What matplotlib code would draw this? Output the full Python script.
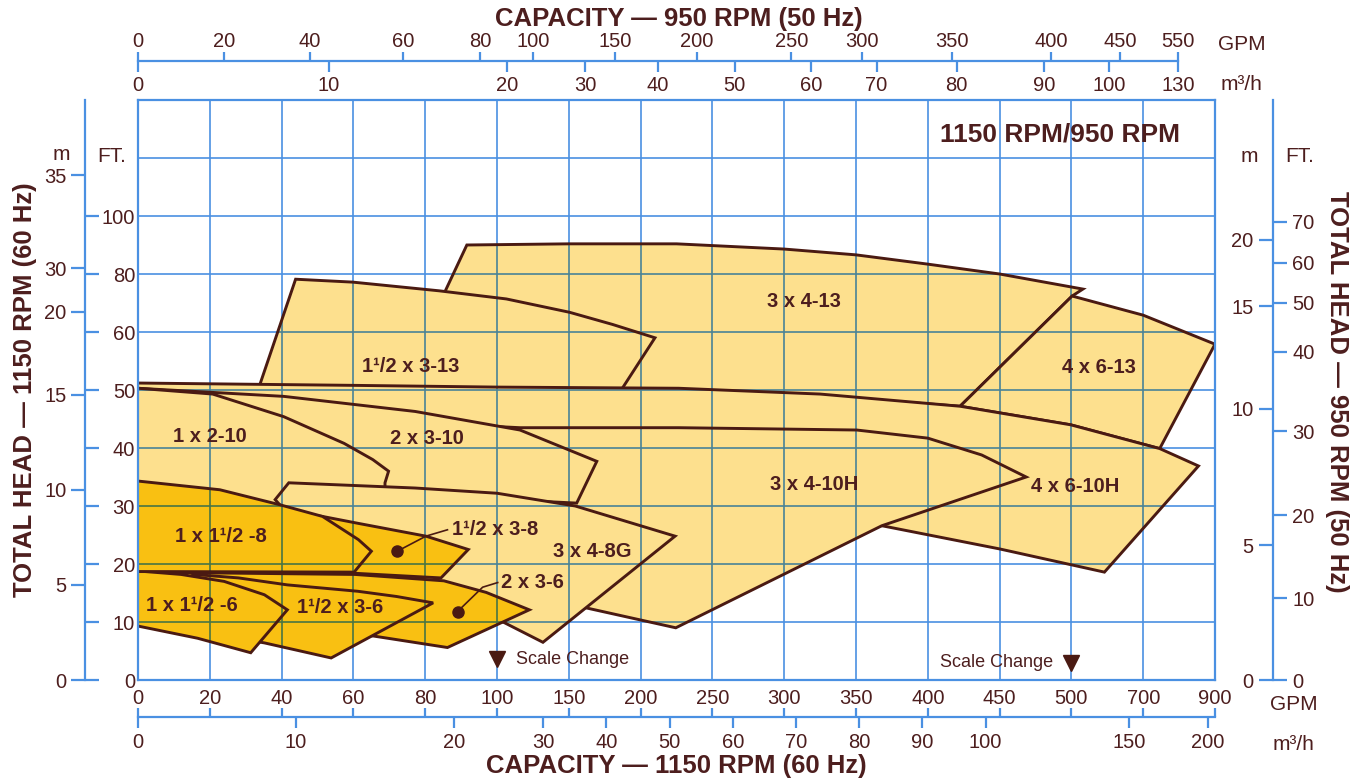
import numpy as np
import matplotlib
matplotlib.use("Agg")
import matplotlib.pyplot as plt
from matplotlib.patches import Polygon
from matplotlib.collections import LineCollection
from matplotlib.colors import to_rgb

plt.rcParams['font.family'] = ['Liberation Sans', 'DejaVu Sans']

# ---------------- scales / tick labels ----------------
GPM_1150_TICKS = [0, 20, 40, 60, 80, 100, 150, 200, 250, 300, 350, 400, 450, 500, 700, 900]
M3H_1150_TICKS = [0, 10, 20, 30, 40, 50, 60, 70, 80, 90, 100, 150, 200]
GPM_950_TICKS = [0, 20, 40, 60, 80, 100, 150, 200, 250, 300, 350, 400, 450, 550]
GPM_950_AT_1150 = [0, 24, 47.9, 73.8, 95.3, 125, 182, 239, 305, 354, 417, 486, 635, 797]
M3H_950_TICKS = [0, 10, 20, 30, 40, 50, 60, 70, 80, 90, 100, 130]
FT_GRID = [0, 10, 20, 30, 40, 50, 60, 80, 100, 120, 140]
FT_1150_TICKS = [0, 10, 20, 30, 40, 50, 60, 80, 100]
M_1150_LABELS = ['0', '5', '10', '15', '20', '30', '35']
M_1150_AT_FT = [0, 16.4, 32.8, 49.2, 67, 82, 114]
FT_950_TICKS = [0, 10, 20, 30, 40, 50, 60, 70]
FT_950_AT_1150 = [0, 14.1, 28.4, 42.9, 56.6, 70, 83.8, 98]
M_950_TICKS = [0, 5, 10, 15, 20]
GPM_PER_M3H = 4.403
FT_PER_M = 3.2808

# ---------------- pump coverage areas (GPM @1150, FT @1150) ----------------
S_3X4_13_GPM = [91.6, 150, 225, 300, 350, 400, 450, 532, 502, 422.5, 350, 250, 150, 72.8]
S_3X4_13_FT = [90, 90.4, 90.4, 88.6, 86.6, 83.4, 80, 74.8, 72.4, 47.2, 48.5, 49.5, 50, 50.2]

S_4X6_13_GPM = [502, 700, 900, 746, 499.5, 422.5]
S_4X6_13_FT = [72.4, 65.8, 57.9, 39.9, 44, 47.2]

S_15X3_13_GPM = [33.6, 43.9, 59.8, 83.9, 106.5, 150.5, 180.5, 210, 186.5]
S_15X3_13_FT = [50.3, 78.2, 77.2, 74.2, 71.4, 66.8, 62.6, 59, 50]

S_4X6_10H_GPM = [0, 60, 100, 226.5, 325, 422.5, 499.5, 746, 854, 592, 450, 368, 250, 100, 0]
S_4X6_10H_FT = [51.2, 50.8, 50.5, 50.3, 49.3, 47.2, 44, 39.9, 36.9, 18.6, 22.6, 26.6, 33, 38, 42]

S_3X4_10H_GPM = [90, 116, 226.5, 350.5, 400, 437.5, 468.5, 368, 224.5, 164.5, 100, 90]
S_3X4_10H_FT = [44, 43.5, 43.5, 43.1, 41.7, 38.8, 35, 26.6, 9.0, 12.3, 16, 22]

S_2X3_10_GPM = [0, 40.6, 77.2, 116, 169.5, 155.5, 40, 0]
S_2X3_10_FT = [50.3, 48.9, 46.3, 43.1, 37.7, 30.5, 33, 35]

S_1X2_10_GPM = [0, 20.8, 40.6, 57.4, 65.4, 69.8, 68.8, 68.8, 0]
S_1X2_10_FT = [50.3, 49.3, 45.4, 40.8, 38, 36, 34, 30, 30]

S_3X4_8G_GPM = [38.2, 42, 77.2, 100, 154.5, 224, 132, 105, 80, 60, 50]
S_3X4_8G_FT = [31.1, 34, 33.1, 32.2, 30, 24.8, 6.5, 9.9, 15, 19, 23]

S_2X3_6_GPM = [0, 60.4, 85.2, 97, 122.5, 86.2, 65.4, 30, 0]
S_2X3_6_FT = [18.6, 18.2, 17.1, 15.1, 12.1, 5.6, 7.6, 10, 12]

S_15X3_8_GPM = [40, 51.4, 61.4, 80.2, 92, 84.4, 60.4, 40]
S_15X3_8_FT = [29, 28.2, 27.0, 24.8, 22.5, 17.6, 18.4, 19]

S_15X3_6_GPM = [15.6, 28, 41.6, 61.2, 72, 82.2, 53.8, 35.2, 20, 6]
S_15X3_6_FT = [18.2, 17.6, 16.4, 15.3, 14.4, 13.3, 3.8, 6.4, 8, 15]

S_1X15_6_GPM = [0, 12, 24, 35.2, 41.6, 31.4, 16.6, 0]
S_1X15_6_FT = [18.8, 18.2, 17.0, 14.7, 12.1, 4.7, 7.2, 9.3]

S_1X15_8_GPM = [0, 22.8, 39.6, 51.4, 61.4, 65, 60.2, 0]
S_1X15_8_FT = [34.3, 32.8, 30.2, 28.2, 24.2, 22.2, 18.6, 18.7]

# ---------------- labels ----------------
LABEL_TEXT = ['3 x 4-13', '4 x 6-13', '1\u00b9/2 x 3-13', '1 x 2-10', '2 x 3-10',
              '3 x 4-10H', '4 x 6-10H', '1 x 1\u00b9/2 -8', '3 x 4-8G',
              '1 x 1\u00b9/2 -6', '1\u00b9/2 x 3-6']
LABEL_GPM = [314, 578, 76, 20, 80.4, 321, 510, 23.2, 166, 15, 56.2]
LABEL_FT = [70.6, 53.8, 54.1, 42, 41.7, 33.7, 33.4, 24.8, 22.2, 12.8, 12.5]

CALLOUT_TEXT = ['1\u00b9/2 x 3-8', '2 x 3-6']
CALLOUT_DOT_GPM = [72.2, 89]
CALLOUT_DOT_FT = [22.2, 11.8]
CALLOUT_BEND_GPM = [80.2, 96]
CALLOUT_BEND_FT = [24.8, 16.0]
CALLOUT_END_GPM = [86.2, 100.5]
CALLOUT_END_FT = [25.9, 16.8]
CALLOUT_TXT_GPM = [87.4, 102.5]
CALLOUT_TXT_FT = [26.0, 16.8]

SCALE_MARK_GPM = [100, 500]
SCALE_MARK_FT = [3.6, 3.0]

# ---------------- style ----------------
BLUE = '#4a90e2'
LIGHT = '#fde08e'
DARK = '#f9c012'
EDGE = '#4a1a12'
TXT = '#4d1e1e'

W, H = 1360, 783
L, R, T, B = 138, 1215, 100, 680

fig = plt.figure(figsize=(W / 100, H / 100), dpi=100)
fig.patch.set_facecolor('white')


def fx(p):
    return p / W


def fy(p):
    return 1 - p / H


def _pw(v, xs, ys):
    v = np.asarray(v, dtype=float)
    xs = np.asarray(xs, dtype=float)
    ys = np.asarray(ys, dtype=float)
    out = np.interp(v, xs, ys)
    s0 = (ys[1] - ys[0]) / (xs[1] - xs[0])
    s1 = (ys[-1] - ys[-2]) / (xs[-1] - xs[-2])
    out = np.where(v < xs[0], ys[0] + (v - xs[0]) * s0, out)
    out = np.where(v > xs[-1], ys[-1] + (v - xs[-1]) * s1, out)
    return out


COLS = np.arange(len(GPM_1150_TICKS), dtype=float)
ROWS = np.arange(len(FT_GRID), dtype=float)


def x_fwd(v):
    return _pw(v, GPM_1150_TICKS, COLS)


def x_inv(c):
    return _pw(c, COLS, GPM_1150_TICKS)


def y_fwd(v):
    return _pw(v, FT_GRID, ROWS)


def y_inv(r):
    return _pw(r, ROWS, FT_GRID)


def set_x(a):
    a.set_xscale('function', functions=(x_fwd, x_inv))
    a.set_xlim(GPM_1150_TICKS[0], GPM_1150_TICKS[-1])


def set_y(a):
    a.set_yscale('function', functions=(y_fwd, y_inv))
    a.set_ylim(FT_GRID[0], FT_GRID[-1])


def multiply(c1, c2):
    a, b = np.array(to_rgb(c1)), np.array(to_rgb(c2))
    return tuple(a * b)


# ---------------- main chart ----------------
ax = fig.add_axes([fx(L), fy(B), (R - L) / W, (B - T) / H])
set_x(ax)
set_y(ax)
ax.set_xticks([])
ax.set_yticks([])
for s in ax.spines.values():
    s.set_color(BLUE)
    s.set_linewidth(1.6)


def grid_segments():
    segs = [[(g, FT_GRID[0]), (g, FT_GRID[-1])] for g in GPM_1150_TICKS[1:-1]]
    segs += [[(GPM_1150_TICKS[0], f), (GPM_1150_TICKS[-1], f)] for f in FT_GRID[1:-1]]
    return segs


base_grid = LineCollection(grid_segments(), colors=BLUE, linewidths=1.2, zorder=0.5)
ax.add_collection(base_grid)

SHAPES = [
    (S_3X4_13_GPM, S_3X4_13_FT, LIGHT),
    (S_4X6_13_GPM, S_4X6_13_FT, LIGHT),
    (S_15X3_13_GPM, S_15X3_13_FT, LIGHT),
    (S_4X6_10H_GPM, S_4X6_10H_FT, LIGHT),
    (S_3X4_10H_GPM, S_3X4_10H_FT, LIGHT),
    (S_2X3_10_GPM, S_2X3_10_FT, LIGHT),
    (S_1X2_10_GPM, S_1X2_10_FT, LIGHT),
    (S_3X4_8G_GPM, S_3X4_8G_FT, LIGHT),
    (S_2X3_6_GPM, S_2X3_6_FT, DARK),
    (S_15X3_8_GPM, S_15X3_8_FT, DARK),
    (S_15X3_6_GPM, S_15X3_6_FT, DARK),
    (S_1X15_6_GPM, S_1X15_6_FT, DARK),
    (S_1X15_8_GPM, S_1X15_8_FT, DARK),
]

for i, (gx, gy, col) in enumerate(SHAPES):
    z = 1 + i * 0.05
    pts = np.column_stack([gx, gy]).astype(float)
    fill = Polygon(pts, closed=True, facecolor=col, edgecolor='none', zorder=z)
    ax.add_patch(fill)
    gc = multiply(BLUE, col)
    gc = tuple(0.25 * np.array(to_rgb(BLUE)) + 0.75 * np.array(gc))
    g = LineCollection(grid_segments(), colors=[gc], linewidths=1.2, zorder=z + 0.01)
    ax.add_collection(g)
    g.set_clip_path(fill)
    n = len(pts)
    left_edges = [k for k in range(n) if pts[k, 0] == 0 and pts[(k + 1) % n, 0] == 0]
    if left_edges:
        k = left_edges[0]
        order = [(k + 1 + j) % n for j in range(n)]
        edge = Polygon(pts[order], closed=False, fill=False, edgecolor=EDGE,
                       linewidth=2.1, joinstyle='miter', capstyle='butt', zorder=z + 0.02)
    else:
        edge = Polygon(pts, closed=True, fill=False, edgecolor=EDGE,
                       linewidth=2.1, joinstyle='miter', zorder=z + 0.02)
    ax.add_patch(edge)

for t, gx, gy in zip(LABEL_TEXT, LABEL_GPM, LABEL_FT):
    ax.text(gx, gy, t, ha='center', va='center', fontsize=14.5,
            fontweight='bold', color=TXT, zorder=5)

for k in range(len(CALLOUT_TEXT)):
    ax.plot([CALLOUT_DOT_GPM[k], CALLOUT_BEND_GPM[k], CALLOUT_END_GPM[k]],
            [CALLOUT_DOT_FT[k], CALLOUT_BEND_FT[k], CALLOUT_END_FT[k]],
            color=EDGE, lw=1.2, zorder=5)
    ax.plot(CALLOUT_DOT_GPM[k], CALLOUT_DOT_FT[k], 'o', color=EDGE, ms=8, zorder=5)
    ax.text(CALLOUT_TXT_GPM[k], CALLOUT_TXT_FT[k], CALLOUT_TEXT[k], ha='left',
            va='center', fontsize=14.5, fontweight='bold', color=TXT, zorder=5)

ax.plot(SCALE_MARK_GPM, SCALE_MARK_FT, 'v', color=EDGE, ms=11, zorder=5, ls='none')
ax.text(SCALE_MARK_GPM[0] * 1.13, SCALE_MARK_FT[0], 'Scale Change', ha='left',
        va='center', fontsize=13, color=TXT, zorder=5)
ax.text(SCALE_MARK_GPM[1] * 0.974, SCALE_MARK_FT[1], 'Scale Change', ha='right',
        va='center', fontsize=13, color=TXT, zorder=5)

ax.text(492, 128, '1150 RPM/950 RPM', ha='center', va='center', fontsize=19,
        fontweight='bold', color=TXT, zorder=5)


# ---------------- capacity scales ----------------
def hscale(ypx, end_gpm):
    a = fig.add_axes([fx(L), fy(ypx), (R - L) / W, 1e-5])
    set_x(a)
    a.set_yticks([])
    a.patch.set_visible(False)
    for s in ('top', 'left', 'right'):
        a.spines[s].set_visible(False)
    a.spines['bottom'].set_color(BLUE)
    a.spines['bottom'].set_linewidth(1.6)
    a.spines['bottom'].set_bounds(0, end_gpm)
    a.xaxis.remove_overlapping_locs = False
    return a


def style_h(a, pad_major, pad_minor):
    a.tick_params(which='major', top=True, bottom=False, labeltop=True, labelbottom=False,
                  direction='out', length=6.5, width=1.6, color=BLUE, labelsize=14.5,
                  labelcolor=TXT, pad=pad_major)
    a.tick_params(which='minor', top=False, bottom=True, labeltop=False, labelbottom=True,
                  direction='out', length=8, width=1.6, color=BLUE, labelsize=14.5,
                  labelcolor=TXT, pad=pad_minor)


# bottom (1150 RPM)
ab = hscale(717, GPM_1150_TICKS[-1])
ab.set_xticks(GPM_1150_TICKS, labels=[str(v) for v in GPM_1150_TICKS])
ab.set_xticks(np.array(M3H_1150_TICKS) * GPM_PER_M3H,
              labels=[str(v) for v in M3H_1150_TICKS], minor=True)
style_h(ab, 0.3, 3.5)

# top (950 RPM)
at = hscale(61, GPM_950_AT_1150[-1])
at.set_xticks(GPM_950_AT_1150, labels=[str(v) for v in GPM_950_TICKS])
at.set_xticks(np.interp(np.array(M3H_950_TICKS) * GPM_PER_M3H, GPM_950_TICKS, GPM_950_AT_1150),
              labels=[str(v) for v in M3H_950_TICKS], minor=True)
style_h(at, 0.6, 3.0)


# ---------------- head scales ----------------
def vscale(xpx):
    a = fig.add_axes([fx(xpx), fy(B), 1e-5, (B - T) / H])
    set_y(a)
    a.set_xticks([])
    a.patch.set_visible(False)
    for s in ('top', 'bottom', 'right'):
        a.spines[s].set_visible(False)
    a.spines['left'].set_color(BLUE)
    a.spines['left'].set_linewidth(1.6)
    a.yaxis.remove_overlapping_locs = False
    return a


al = vscale(85)
al.set_yticks(FT_1150_TICKS, labels=[str(v) for v in FT_1150_TICKS])
al.set_yticks(M_1150_AT_FT, labels=M_1150_LABELS, minor=True)
al.tick_params(which='major', left=False, right=True, labelleft=False, labelright=True,
               direction='out', length=10, width=1.6, color=BLUE, labelsize=14.5,
               labelcolor=TXT, pad=26)
al.tick_params(which='minor', left=True, right=False, labelleft=True, labelright=False,
               direction='out', length=10, width=1.6, color=BLUE, labelsize=14.5,
               labelcolor=TXT, pad=3.5)
for tk in al.yaxis.get_major_ticks():
    tk.label2.set_horizontalalignment('right')

ar = vscale(1273)
ar.set_yticks(FT_950_AT_1150, labels=[str(v) for v in FT_950_TICKS])
ar.set_yticks(np.interp(np.array(M_950_TICKS) * FT_PER_M, FT_950_TICKS, FT_950_AT_1150),
              labels=[str(v) for v in M_950_TICKS], minor=True)
ar.tick_params(which='major', left=False, right=True, labelleft=False, labelright=True,
               direction='out', length=10, width=1.6, color=BLUE, labelsize=14.5,
               labelcolor=TXT, pad=4)
ar.tick_params(which='minor', left=True, right=False, labelleft=True, labelright=False,
               direction='out', length=10, width=1.6, color=BLUE, labelsize=14.5,
               labelcolor=TXT, pad=4)

# ---------------- titles and units ----------------
title_kw = dict(fontsize=18.5, fontweight='bold', color=TXT, ha='center', va='center')
fig.text(fx(679), fy(19), 'CAPACITY \u2014 950 RPM (50 Hz)', **title_kw)
fig.text(fx(676), fy(766), 'CAPACITY \u2014 1150 RPM (60 Hz)', **title_kw)
fig.text(fx(25), fy(390), 'TOTAL HEAD \u2014 1150 RPM (60 Hz)', rotation=90, **title_kw)
fig.text(fx(1337), fy(392), 'TOTAL HEAD \u2014 950 RPM (50 Hz)', rotation=-90, **title_kw)

unit_kw = dict(fontsize=15, color=TXT, ha='center', va='center')
fig.text(fx(1242), fy(44), 'GPM', **unit_kw)
fig.text(fx(1242), fy(85), 'm\u00b3/h', **unit_kw)
fig.text(fx(1294), fy(705), 'GPM', **unit_kw)
fig.text(fx(1294), fy(745), 'm\u00b3/h', **unit_kw)
fig.text(fx(61), fy(155), 'm', **unit_kw)
fig.text(fx(112), fy(157), 'FT.', **unit_kw)
fig.text(fx(1249), fy(157), 'm', **unit_kw)
fig.text(fx(1300), fy(157), 'FT.', **unit_kw)

fig.savefig('out.png', dpi=100)
